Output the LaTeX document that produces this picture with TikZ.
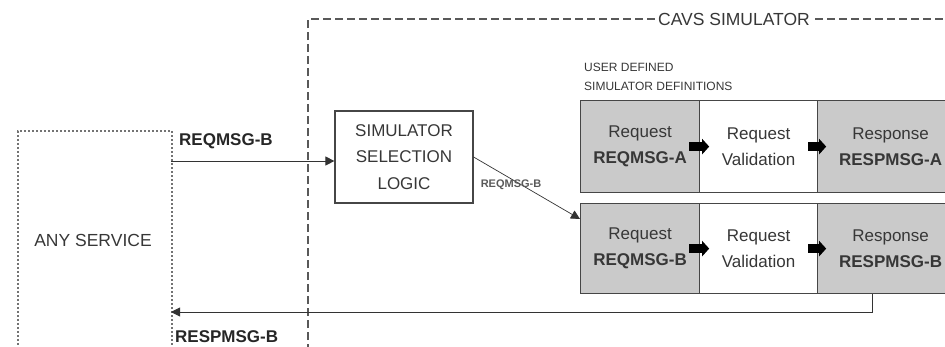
\documentclass[tikz,border=0pt]{standalone}
\usepackage{fontspec}
\setmainfont{Liberation Sans}
\usetikzlibrary{arrows.meta}
\definecolor{cellgray}{RGB}{202,202,202}
\definecolor{linegray}{RGB}{70,70,70}
\definecolor{txtgray}{RGB}{55,55,55}

\begin{document}
\begin{tikzpicture}[x=1pt,y=-1pt]
  \tikzstyle{cell} = [draw=linegray,line width=1.2pt,anchor=north west,inner sep=0pt,align=center,font=\fontsize{17}{26}\selectfont,text=txtgray]
  \tikzstyle{flow} = [draw=black!80,line width=0.9pt,-{Triangle[length=9pt,width=9pt]}]
  \tikzstyle{push} = [line width=9pt,-{Triangle[length=7pt,width=15pt]}]
  \tikzstyle{tag} = [font=\bfseries\fontsize{17}{20}\selectfont,text=black!85,anchor=west,inner sep=0pt]
  \useasboundingbox (0,0) rectangle (945,346);
  \clip (0,0) rectangle (945,346);

  % frames
  \node[draw=black!55,line width=1.6pt,dash pattern=on 2pt off 2pt,anchor=north west,
        minimum width=154pt,minimum height=260pt] (anysvc) at (17,130) {};
  \node[text=txtgray,font=\fontsize{17.5}{20}\selectfont] (anytxt) at (93,240) {ANY SERVICE};
  \draw[black!65,line width=1.2pt,dash pattern=on 8pt off 4pt] (308,400) -- (308,19) -- (960,19);
  \node[fill=white,text=txtgray,inner sep=1pt,font=\fontsize{17.5}{20}\selectfont] (cavs) at (734,19) {CAVS SIMULATOR};

  \node[draw=linegray,line width=1.2pt,minimum width=138pt,minimum height=92pt,align=center,
        text=txtgray,font=\fontsize{17}{26.5}\selectfont] (selector) at (404,157) {SIMULATOR\\SELECTION\\LOGIC};
  \node[anchor=west,align=left,inner sep=0pt,text=txtgray,font=\fontsize{12}{19}\selectfont] (userdef) at (584,76.5)
        {USER DEFINED\\SIMULATOR DEFINITIONS};

  % simulator definitions
  \foreach \r/\y/\h in {A/100/92,B/203/90}{
    \node[cell,fill=cellgray,minimum width=119pt,minimum height=\h] (req\r) at (580,\y) {Request\\\textbf{REQMSG-\r}};
    \node[cell,fill=white,minimum width=118pt,minimum height=\h] (val\r) at (699,\y) {Request\\Validation};
    \node[cell,fill=cellgray,minimum width=146pt,minimum height=\h] (resp\r) at (817,\y) {Response\\\textbf{RESPMSG-\r}};
    \draw[push] ([xshift=-11pt]req\r.east) -- ([xshift=9pt]req\r.east);
    \draw[push] ([xshift=-10pt]val\r.east) -- ([xshift=8pt]val\r.east);
  }

  % messages
  \coordinate (reqout) at (171,161);
  \coordinate (back) at (171,312);
  \draw[flow] (reqout) -- (reqout -| selector.west);
  \node[tag] (reqlbl) at (179,141) {REQMSG-B};
  \draw[flow,line width=0.7pt] (selector.east) -- ([yshift=-16pt]reqB.north west);
  \node[font=\bfseries\fontsize{11}{13}\selectfont,text=black!65,inner sep=0pt] (diaglbl) at (511,185) {REQMSG-B};
  \draw[flow] ([xshift=-18pt]respB.south) |- (back);
  \node[tag] (resplbl) at (175,337) {RESPMSG-B};
\end{tikzpicture}
\end{document}
